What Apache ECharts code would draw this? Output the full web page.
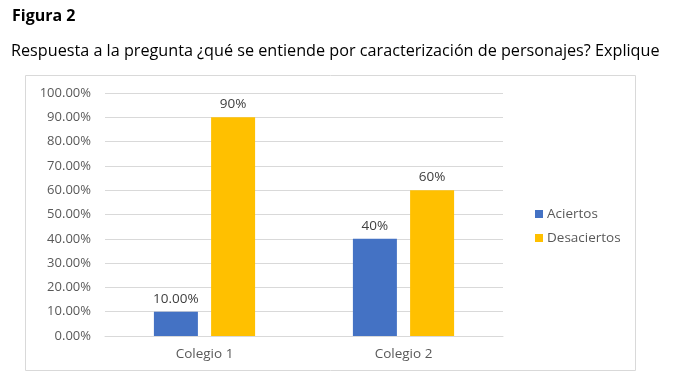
<!DOCTYPE html>
<html><head><meta charset="utf-8">
<script src="https://cdn.jsdelivr.net/npm/echarts@6/dist/echarts.min.js"></script>
<style>html,body{margin:0;padding:0;background:#fff}#c{width:687px;height:385px}</style>
</head><body><div id="c"></div>
<script>
const categories = ['Colegio 1', 'Colegio 2'];
const seriesNames = ['Aciertos', 'Desaciertos'];
const aciertos = [10, 40];
const desaciertos = [90, 60];
const aciertosLabels = ['10.00%', '40%'];
const desaciertosLabels = ['90%', '60%'];
const yTicks = [0, 10, 20, 30, 40, 50, 60, 70, 80, 90, 100];

const chart = echarts.init(document.getElementById('c'), null, {renderer: 'canvas'});
const font = 'Open Sans';
const labelStyle = {show: true, position: 'top', color: '#404040', fontSize: 13.5, fontFamily: font, distance: 6};
chart.setOption({
  animation: false,
  textStyle: {fontFamily: font},
  graphic: [
    {type: 'rect', shape: {x: 25.5, y: 75.5, width: 610, height: 295}, style: {fill: 'none', stroke: '#d9d9d9', lineWidth: 1}, z: -1},
    {type: 'text', left: 12, top: 8, style: {text: 'Figura 2', font: 'bold 16px "Open Sans"', fill: '#000'}},
    {type: 'text', left: 11, top: 43, style: {text: 'Respuesta a la pregunta ¿qué se entiende por caracterización de personajes? Explique', font: '16.2px "Open Sans"', fill: '#000'}}
  ],
  grid: {left: 105, right: 184, top: 93, bottom: 49},
  legend: {
    orient: 'vertical', left: 530, top: 202, itemWidth: 8, itemHeight: 8, itemGap: 10,
    icon: 'rect', textStyle: {color: '#595959', fontSize: 13.5, fontFamily: font, padding: [0, 0, 0, -1]},
    data: seriesNames
  },
  xAxis: {
    type: 'category', data: categories,
    axisLine: {lineStyle: {color: '#d9d9d9'}}, axisTick: {show: false},
    axisLabel: {color: '#595959', fontSize: 13.5, fontFamily: font, margin: 11}
  },
  yAxis: {
    type: 'value', min: 0, max: 100, interval: 10,
    axisLine: {show: false}, axisTick: {show: false},
    splitLine: {lineStyle: {color: '#d9d9d9'}},
    axisLabel: {color: '#595959', fontSize: 13, fontFamily: font, margin: 14,
      formatter: v => yTicks.includes(v) ? v.toFixed(2) + '%' : ''}
  },
  series: [
    {name: seriesNames[0], type: 'bar', data: aciertos, barWidth: 44, barGap: '30%',
     itemStyle: {color: '#4472c4'},
     label: Object.assign({}, labelStyle, {formatter: p => aciertosLabels[p.dataIndex]})},
    {name: seriesNames[1], type: 'bar', data: desaciertos, barWidth: 44,
     itemStyle: {color: '#ffc000'},
     label: Object.assign({}, labelStyle, {formatter: p => desaciertosLabels[p.dataIndex]})}
  ]
});
</script></body></html>
